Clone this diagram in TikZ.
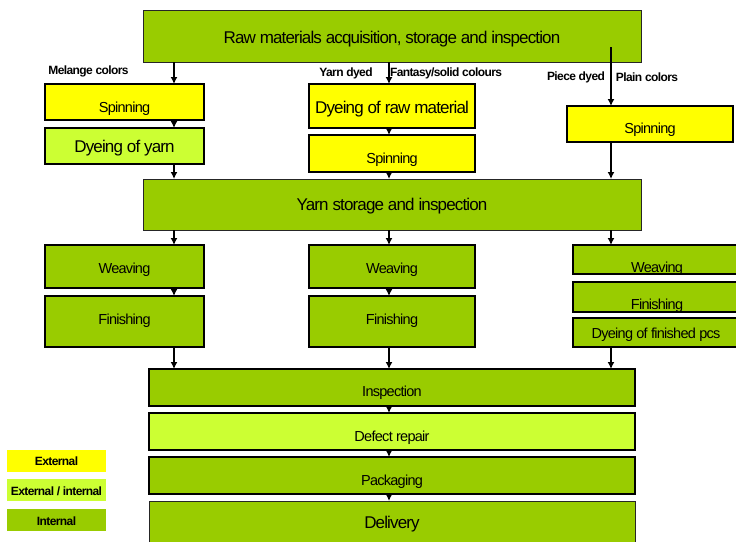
\documentclass[tikz,border=0pt]{standalone}
\usepackage{fontspec}
\setmainfont{Liberation Sans}[LetterSpace=-5]
\usetikzlibrary{arrows.meta}
\definecolor{gint}{HTML}{99CC00}
\definecolor{gext}{HTML}{FFFF00}
\definecolor{gmix}{HTML}{CCFF33}
\tikzset{
  box/.style={draw=black, line width=2pt, inner sep=0pt, outer sep=0pt, align=center, font=\fontsize{14.5}{16}\selectfont},
  thinbox/.style={draw=black!85, line width=1pt, inner sep=0pt, outer sep=0pt, align=center},
  big/.style={font=\fontsize{17}{20}\selectfont},
  bo/.style={text height=#1pt, text depth=0pt},
  int/.style={fill=gint},
  ext/.style={fill=gext},
  mix/.style={fill=gmix},
  lab/.style={font=\bfseries\fontsize{12}{14}\selectfont, inner sep=0pt},
  leg/.style={inner sep=0pt, font=\bfseries\fontsize{12}{14}\selectfont, minimum width=99pt, minimum height=22pt, bo=10},
  arr/.style={line width=1.5pt, -{Latex[length=7pt,width=7pt]}},
  txt/.style={inner sep=0pt, anchor=base, font=\fontsize{14.5}{16}\selectfont}
}
\begin{document}
\begin{tikzpicture}[x=1pt,y=-1pt]
\clip (0,0) rectangle (736,541);
\fill[white] (0,0) rectangle (736,541);
% top
\node[thinbox,int,big,bo=14.6,minimum width=498pt,minimum height=52pt] (raw) at (392,36) {Raw materials acquisition, storage and inspection};
\coordinate (rawin) at (611,47);
% labels
\node[lab] (l1) at (88.5,71) {Melange colors};
\node[lab] (l2) at (346,73) {Yarn dyed};
\node[lab] (l3) at (446,73) {Fantasy/solid colours};
\node[lab] (l4) at (576,77) {Piece dyed};
\node[lab] (l5) at (647,77) {Plain colors};
% left column
\node[box,ext,bo=20,minimum width=159pt,minimum height=36pt] (spinL) at (124.5,102) {Spinning};
\node[box,mix,big,bo=13.4,minimum width=159pt,minimum height=36pt] (dyeY) at (124.5,146) {Dyeing of yarn};
% middle column
\node[box,ext,big,bo=14.6,minimum width=166pt,minimum height=44pt] (dyeR) at (392,106) {Dyeing of raw material};
\node[box,ext,bo=20,minimum width=166pt,minimum height=37pt] (spinM) at (392,153.5) {Spinning};
% right column
\node[box,ext,bo=18.6,minimum width=166pt,minimum height=36pt] (spinR) at (650,124) {Spinning};
% yarn storage
\node[thinbox,int,big,bo=12.4,minimum width=498pt,minimum height=51pt] (yarn) at (392,204.5) {Yarn storage and inspection};
% weaving / finishing
\node[box,int,bo=13.6,minimum width=159pt,minimum height=43pt] (weaveL) at (124.5,266.5) {Weaving};
\node[box,int,bo=5.2,minimum width=159pt,minimum height=51pt] (finL) at (124.5,321.5) {Finishing};
\node[box,int,bo=13.6,minimum width=166pt,minimum height=43pt] (weaveM) at (392,266.5) {Weaving};
\node[box,int,bo=5.2,minimum width=166pt,minimum height=51pt] (finM) at (392,321.5) {Finishing};
\node[box,int,minimum width=166pt,minimum height=29pt] (weaveR) at (656,259.5) {};
\node[txt] (weaveRt) at (657,272) {Weaving};
\node[box,int,minimum width=166pt,minimum height=30pt] (finR) at (656,297) {};
\node[txt] (finRt) at (657,309) {Finishing};
\node[box,int,bo=11.6,minimum width=166pt,minimum height=29pt] (dyeF) at (656,332.5) {Dyeing of finished pcs};
% bottom
\node[box,int,bo=18.4,minimum width=486pt,minimum height=37pt] (insp) at (392,387.5) {Inspection};
\node[box,mix,bo=19,minimum width=486pt,minimum height=37pt] (defect) at (392,431.5) {Defect repair};
\node[box,int,bo=19,minimum width=486pt,minimum height=37pt] (pack) at (392,475.5) {Packaging};
\node[thinbox,int,big,bo=4,minimum width=486pt,minimum height=50pt] (deliv) at (392,526) {Delivery};
% legend
\node[leg,fill=gext] (legE) at (56.5,460.5) {External};
\node[leg,fill=gmix] (legM) at (56.5,490) {External / internal};
\node[leg,fill=gint] (legI) at (56.5,520) {Internal};
% arrows
\draw[arr] (raw.south -| spinL.south east) ++(-30,0) coordinate (a1) -- (a1 |- spinL.north);
\draw[arr] (spinL.south -| a1) -- (a1 |- dyeY.north);
\draw[arr] (dyeY.south -| a1) -- (a1 |- yarn.north);
\draw[arr] (raw.south -| 389,0) coordinate (a2) -- (a2 |- dyeR.north);
\draw[arr] (dyeR.south -| a2) -- (a2 |- spinM.north);
\draw[arr] (spinM.south -| a2) -- (a2 |- yarn.north);
\draw[arr] (rawin) -- (rawin |- spinR.north);
\draw[arr] (spinR.south -| rawin) -- (rawin |- yarn.north);
\draw[arr] (yarn.south -| a1) -- (a1 |- weaveL.north);
\draw[arr] (yarn.south -| a2) -- (a2 |- weaveM.north);
\draw[arr] (yarn.south -| rawin) -- (rawin |- weaveR.north);
\draw[arr] (weaveL.south -| a1) -- (a1 |- finL.north);
\draw[arr] (weaveM.south -| a2) -- (a2 |- finM.north);
\draw[arr] (finL.south -| a1) -- (a1 |- insp.north);
\draw[arr] (finM.south -| a2) -- (a2 |- insp.north);
\draw[arr] (dyeF.south -| rawin) -- (rawin |- insp.north);
\draw[arr] (insp.south -| a2) -- (a2 |- defect.north);
\draw[arr] (defect.south -| a2) -- (a2 |- pack.north);
\draw[arr] (pack.south -| a2) -- (a2 |- deliv.north);
\end{tikzpicture}
\end{document}
